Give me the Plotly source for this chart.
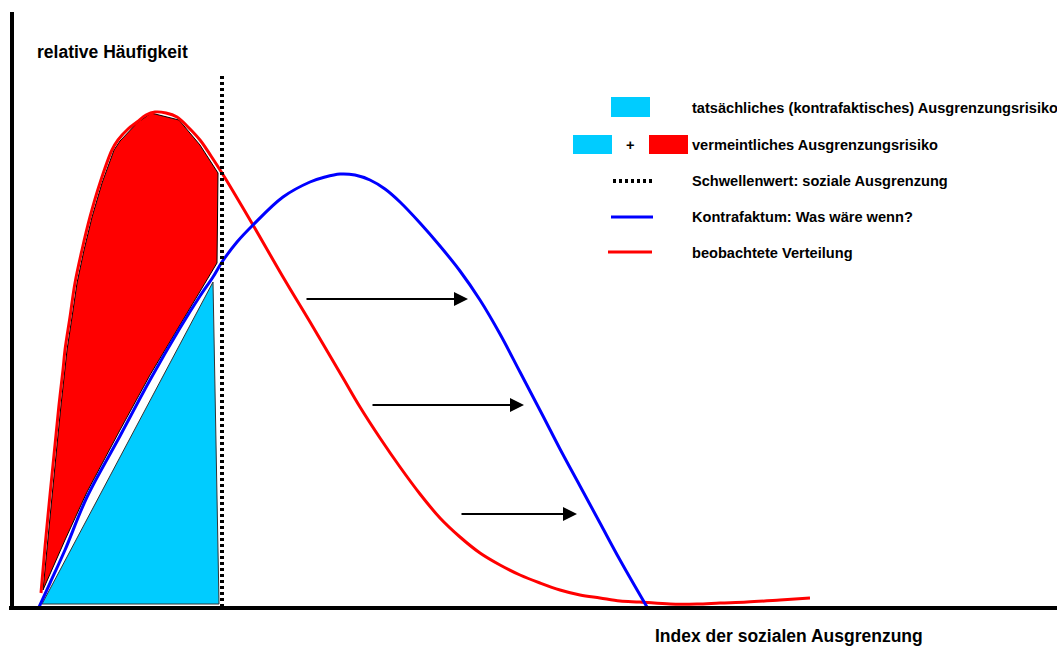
import plotly.graph_objects as go

# ---- data (x = index, y = relative frequency; schematic units) ----
obs_x = [41, 45, 50, 55, 59, 63, 65, 70, 75, 82, 90, 100, 112, 118, 128, 137, 146, 155, 166, 177, 188,
         200, 211, 222, 253, 283, 313, 343, 360, 380, 400, 420, 440, 460, 480, 500, 520, 540, 560,
         580, 600, 620, 640, 670, 697, 720, 747, 780, 810]
obs_y = [14, 60, 112, 162, 202, 237, 257, 290, 324, 357, 390, 424, 457, 467, 478, 485, 492, 495, 494, 490, 480,
         467, 451, 434, 382, 330, 280, 229, 200, 169, 140, 113, 89, 70, 54, 42, 32, 24, 17,
         12, 9, 6, 5, 3, 3, 4, 5, 7, 9]

cf_x = [39, 50, 65, 87, 120, 150, 180, 200, 213, 222, 237, 253, 283, 310, 325, 340, 355, 370, 385,
        400, 420, 440, 460, 480, 500, 520, 543, 560, 580, 600, 620, 647]
cf_y = [0, 24, 57, 110, 171, 227, 279, 311, 330, 345, 365, 382, 410, 425, 430, 433, 432, 427, 418,
        405, 384, 361, 336, 307, 273, 235, 191, 158, 121, 84, 47, 0]

# true (counterfactual) risk area
true_x = [42, 213, 219, 42]
true_y = [3, 325, 3, 3]

# supposed risk area (red)
sup_x = [43, 47, 52, 57, 61, 65, 67, 72, 77, 84, 92, 102, 114, 120, 137, 151, 179, 200, 218,
         217, 180, 150, 120, 87, 65, 43]
sup_y = [17, 60, 112, 162, 202, 237, 257, 290, 324, 357, 390, 424, 457, 466, 484, 494, 487, 462, 434,
         344, 282, 232, 177, 115, 67, 17]

threshold_x = 222
threshold_top = 531

arrows = [(305, 468, 308), (371, 524, 202), (460, 577, 93)]  # (from x, to x, y)

legend_texts = [
    "tatsächliches (kontrafaktisches) Ausgrenzungsrisiko",
    "vermeintliches Ausgrenzungsrisiko",
    "Schwellenwert: soziale Ausgrenzung",
    "Kontrafaktum: Was wäre wenn?",
    "beobachtete Verteilung",
]
legend_y = [499, 462, 426, 390, 354]

CYAN = "#00CCFF"
RED = "#FF0000"
BLUE = "#0000FF"
FONT = "Liberation Sans, Arial, sans-serif"

fig = go.Figure()

fig.add_trace(go.Scatter(x=true_x, y=true_y, mode="lines", fill="toself", fillcolor=CYAN,
                         line=dict(color="#333333", width=1), hoverinfo="skip"))
fig.add_trace(go.Scatter(x=sup_x, y=sup_y, mode="lines", fill="toself", fillcolor=RED,
                         line=dict(color="black", width=1), hoverinfo="skip"))
fig.add_trace(go.Scatter(x=obs_x, y=obs_y, mode="lines", line=dict(color=RED, width=3, shape="spline", smoothing=1),
                         hoverinfo="skip"))
fig.add_trace(go.Scatter(x=cf_x, y=cf_y, mode="lines", line=dict(color=BLUE, width=3, shape="spline", smoothing=1),
                         hoverinfo="skip"))
fig.add_trace(go.Scatter(x=[threshold_x, threshold_x], y=[0, threshold_top], mode="lines",
                         line=dict(color="black", width=4, dash="3px,3px"), hoverinfo="skip"))

shapes = []
# axes
shapes.append(dict(type="line", x0=12, x1=12, y0=-2, y1=595, line=dict(color="black", width=4)))
shapes.append(dict(type="line", x0=9, x1=1075, y0=-1, y1=-1, line=dict(color="black", width=4)))
# legend symbols
shapes.append(dict(type="rect", x0=611, x1=650, y0=490, y1=510, fillcolor=CYAN, line=dict(width=0)))
shapes.append(dict(type="rect", x0=573, x1=612, y0=453, y1=472, fillcolor=CYAN, line=dict(width=0)))
shapes.append(dict(type="rect", x0=649, x1=688, y0=453, y1=472, fillcolor=RED, line=dict(width=0)))
shapes.append(dict(type="line", x0=613, x1=652, y0=426, y1=426, line=dict(color="black", width=4, dash="3px,3px")))
shapes.append(dict(type="line", x0=611, x1=653, y0=390, y1=390, line=dict(color=BLUE, width=3)))
shapes.append(dict(type="line", x0=608, x1=652, y0=355, y1=355, line=dict(color=RED, width=3)))

annotations = []
for t, y in zip(legend_texts, legend_y):
    annotations.append(dict(x=690, y=y, text="<b>" + t + "</b>", showarrow=False, xanchor="left",
                            yanchor="middle", font=dict(family=FONT, size=14.6, color="black")))
annotations.append(dict(x=630, y=462, text="<b>+</b>", showarrow=False, xanchor="center", yanchor="middle",
                        font=dict(family=FONT, size=14.6, color="black")))
annotations.append(dict(x=35, y=555, text="<b>relative Häufigkeit</b>", showarrow=False, xanchor="left",
                        yanchor="middle", font=dict(family=FONT, size=17.5, color="black")))
annotations.append(dict(x=653, y=-29, text="<b>Index der sozialen Ausgrenzung</b>", showarrow=False,
                        xanchor="left", yanchor="middle", font=dict(family=FONT, size=17.5, color="black")))
for x0, x1, y in arrows:
    annotations.append(dict(x=x1, y=y, ax=x0, ay=y, axref="x", ayref="y", xref="x", yref="y", text="",
                            showarrow=True, arrowhead=2, arrowsize=1.4, arrowwidth=2, arrowcolor="black"))

fig.update_layout(
    width=1057, height=646, margin=dict(l=0, r=0, t=0, b=0),
    paper_bgcolor="white", plot_bgcolor="white", showlegend=False,
    xaxis=dict(range=[0, 1057], visible=False, fixedrange=True),
    yaxis=dict(range=[-39, 607], visible=False, fixedrange=True),
    shapes=shapes, annotations=annotations,
)

fig.write_html("out.html", config={"displayModeBar": False},
               post_script="document.body.style.margin='0px';document.body.style.overflow='hidden';")
